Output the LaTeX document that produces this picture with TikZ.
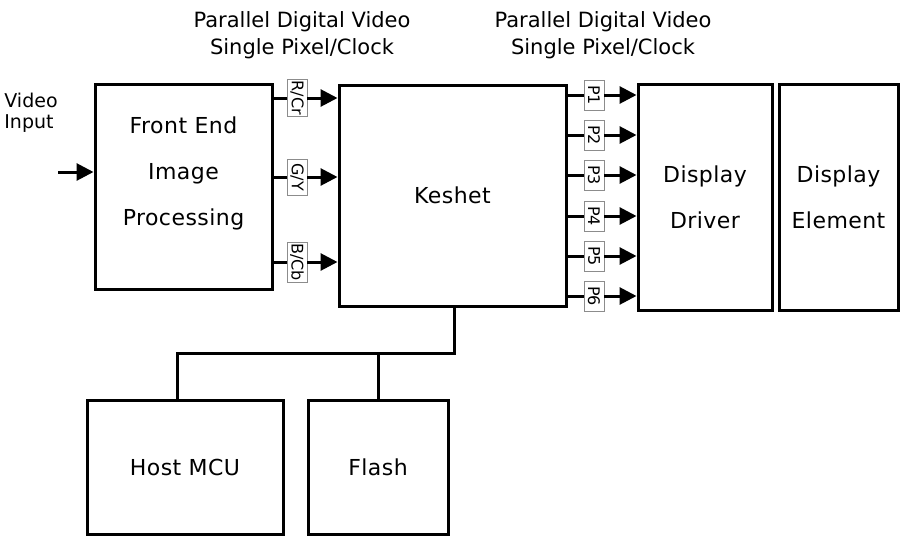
\documentclass[tikz,border=0pt]{standalone}
\usepackage{fontspec}
\setmainfont{DejaVu Sans}[LetterSpace=2]
\newfontfamily\cabecera{DejaVu Sans}
\usetikzlibrary{arrows.meta, positioning, calc}
\definecolor{grisBorde}{HTML}{8C8C8C}
\colorlet{colLinea}{black}
\colorlet{colTexto}{black}
\tikzset{
  cajaBloque/.style={
    draw=colLinea, line width=3pt, fill=white,
    align=center, text=colTexto,
    font=\fontsize{22}{46}\selectfont
  },
  cajaSenal/.style={
    draw=grisBorde, line width=0.9pt, fill=white, rotate=-90,
    inner sep=1pt, minimum height=20pt, text=colTexto,
    font=\cabecera\fontsize{16}{16}\selectfont
  },
  textoSuelto/.style={align=center, text=colTexto,
    font=\cabecera\fontsize{21}{27}\selectfont},
  flecha/.style={-{Triangle[length=17pt, width=17pt]}, line width=3pt, colLinea},
  cable/.style={line width=3pt, colLinea},
}

\begin{document}
\begin{tikzpicture}[x=1pt, y=-1pt]
  \useasboundingbox (0,0) rectangle (901,536);
  % bloques principales
  \node[cajaBloque, minimum width=177pt, minimum height=205pt] (fe) at (183.5,186.5) {};
  \node[cajaBloque, draw=none, fill=none] (feTxt) at (183.5,173) {Front End\\Image\\Processing};
  \node[cajaBloque, minimum width=227pt, minimum height=221pt] (kes) at (452.5,195.5) {Keshet};
  \node[cajaBloque, minimum width=134pt, minimum height=226pt] (drv) at (705,197) {Display\\Driver};
  \node[cajaBloque, minimum width=119pt, minimum height=226pt] (elem) at (838.5,197) {Display\\Element};
  \node[cajaBloque, minimum width=196pt, minimum height=134pt] (mcu) at (185,467) {Host MCU};
  \node[cajaBloque, minimum width=140pt, minimum height=134pt] (flash) at (378,467) {Flash};

  % textos de cabecera
  \node[textoSuelto] (cabIzq) at (302,35) {Parallel Digital Video\\Single Pixel/Clock};
  \node[textoSuelto] (cabDer) at (603,35) {Parallel Digital Video\\Single Pixel/Clock};
  \node[textoSuelto, font=\cabecera\fontsize{19}{21}\selectfont, align=left] (vin) at (31,113) {Video\\Input};
  \coordinate (entrada) at (58,172);
  \draw[flecha] (entrada) -- (entrada -| fe.west);

  % componentes de color
  \node[cajaSenal, minimum width=36pt] (rcr) at (297,98) {R/Cr};
  \node[cajaSenal, minimum width=36pt] (gy) at (297,177) {G/Y};
  \node[cajaSenal, minimum width=40pt] (bcb) at (297,262) {B/Cb};
  \foreach \s in {rcr, gy, bcb} {
    \draw[cable] (\s.south -| fe.east) -- (\s.south);
    \draw[flecha] (\s.north) -- (\s.north -| kes.west);
  }

  % salidas de pixel
  \foreach \i/\y in {1/95, 2/135, 3/175, 4/216, 5/256, 6/296} {
    \node[cajaSenal, minimum width=30pt] (p\i) at (594,\y) {P\i};
    \draw[cable] (p\i.south -| kes.east) -- (p\i.south);
    \draw[flecha] (p\i.north) -- (p\i.north -| drv.west);
  }

  % bus del host
  \coordinate (busDer) at (454,353);
  \coordinate (busIzq) at (177,353);
  \draw[cable] (busDer |- kes.south) -- (busDer) -- (busIzq) -- (busIzq |- mcu.north);
  \draw[cable] (flash.north) -- (flash.north |- busDer);
\end{tikzpicture}
\end{document}
